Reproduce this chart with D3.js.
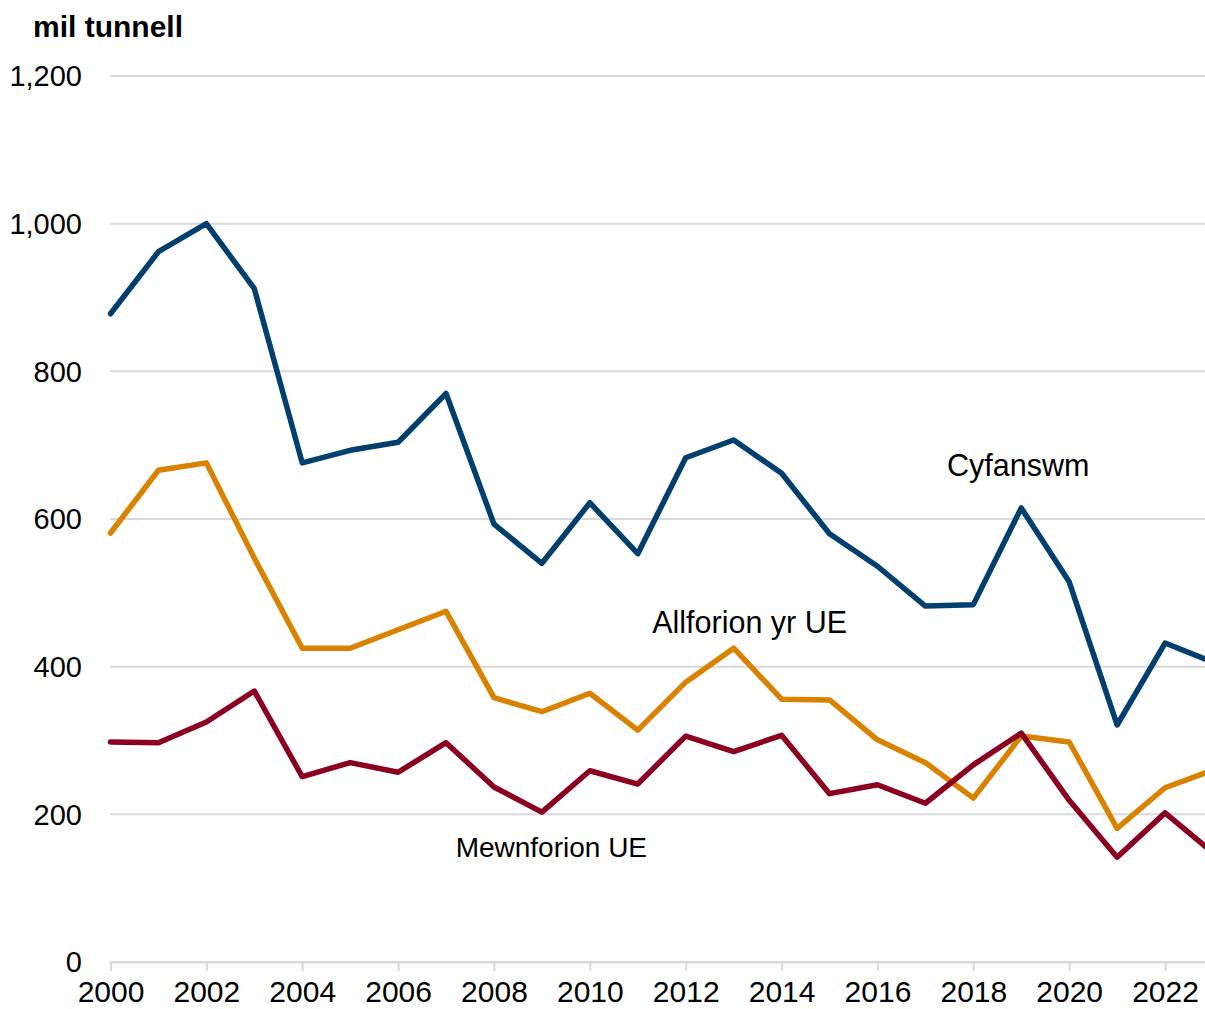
<!DOCTYPE html>
<html>
<head>
<meta charset="utf-8">
<script src="https://cdn.jsdelivr.net/npm/d3@7"></script>
<style>
	body { margin: 0; background: #fff; }
	svg { display: block; font-family: "Liberation Sans", Arial, sans-serif; }
</style>
</head>
<body>
<svg id="chart" width="1205" height="1009"></svg>
<script>
var years = d3.range(2000, 2024)

// mil tunnell
var cyfanswm = [878, 962, 1000, 912, 676, 693, 704, 770, 593, 540, 622, 553,
	683, 707, 662, 580, 536, 482, 484, 615, 515, 321, 432, 406]
var allforion = [581, 666, 676, 547, 425, 425, 450, 475, 358, 339, 364, 314,
	379, 425, 356, 355, 301, 270, 222, 306, 298, 181, 236, 260]
var mewnforion = [298, 297, 325, 367, 251, 270, 257, 297, 237, 203, 259, 241,
	306, 285, 307, 228, 240, 215, 267, 310, 219, 142, 202, 148]

var y_ticks = [0, 200, 400, 600, 800, 1000, 1200]
var x_ticks = d3.range(2000, 2024, 2)

var series = [
	{name: "Cyfanswm", values: cyfanswm, colour: "#003f6e", lx: 2017.45, ly: 658, size: 30.5},
	{name: "Allforion yr UE", values: allforion, colour: "#d98200", lx: 2011.3, ly: 446, size: 30.5},
	{name: "Mewnforion UE", values: mewnforion, colour: "#8b0021", lx: 2007.2, ly: 142, size: 28}
]

var svg = d3.select("#chart")

var x_scale = d3.scaleLinear()
	.domain([2000, 2023])
	.range([110.5, 1213])

var y_scale = d3.scaleLinear()
	.domain([0, 1200])
	.range([962, 76])

// gridlines
svg.append("g")
	.selectAll("line")
	.data(y_ticks)
	.join("line")
	.attr("x1", 110)
	.attr("x2", 1205)
	.attr("y1", function(d) { return y_scale(d) })
	.attr("y2", function(d) { return y_scale(d) })
	.attr("stroke", "#d9d9d9")
	.attr("stroke-width", 2)

// y labels
svg.append("g")
	.selectAll("text")
	.data(y_ticks)
	.join("text")
	.attr("x", 82)
	.attr("y", function(d) { return y_scale(d) })
	.attr("dy", "0.36em")
	.attr("text-anchor", "end")
	.attr("font-size", 29)
	.attr("fill", "#000")
	.text(d3.format(","))

// x axis
var x_axis = svg.append("g")
	.attr("transform", "translate(0," + y_scale(0) + ")")
	.call(d3.axisBottom(x_scale).tickValues(x_ticks).tickFormat(d3.format("d")).tickSize(9).tickPadding(10))

x_axis.select(".domain").attr("stroke", "#d9d9d9").attr("stroke-width", 2)
x_axis.selectAll(".tick line").attr("stroke", "#d9d9d9").attr("stroke-width", 2)
x_axis.selectAll(".tick text")
	.attr("font-family", "Liberation Sans, Arial, sans-serif")
	.attr("font-size", 30)
	.attr("fill", "#000")

var line = d3.line()
	.x(function(d, i) { return x_scale(years[i]) })
	.y(function(d) { return y_scale(d) })

svg.append("g")
	.selectAll("path")
	.data(series)
	.join("path")
	.attr("fill", "none")
	.attr("stroke", function(d) { return d.colour })
	.attr("stroke-width", 5.5)
	.attr("stroke-linejoin", "round")
	.attr("stroke-linecap", "round")
	.attr("d", function(d) { return line(d.values) })

svg.append("g")
	.selectAll("text")
	.data(series)
	.join("text")
	.attr("x", function(d) { return x_scale(d.lx) })
	.attr("y", function(d) { return y_scale(d.ly) })
	.attr("font-size", function(d) { return d.size })
	.attr("fill", "#000")
	.text(function(d) { return d.name })

svg.append("text")
	.attr("x", 33)
	.attr("y", 37)
	.attr("font-size", 30)
	.attr("font-weight", "bold")
	.attr("fill", "#000")
	.text("mil tunnell")
</script>
</body>
</html>
